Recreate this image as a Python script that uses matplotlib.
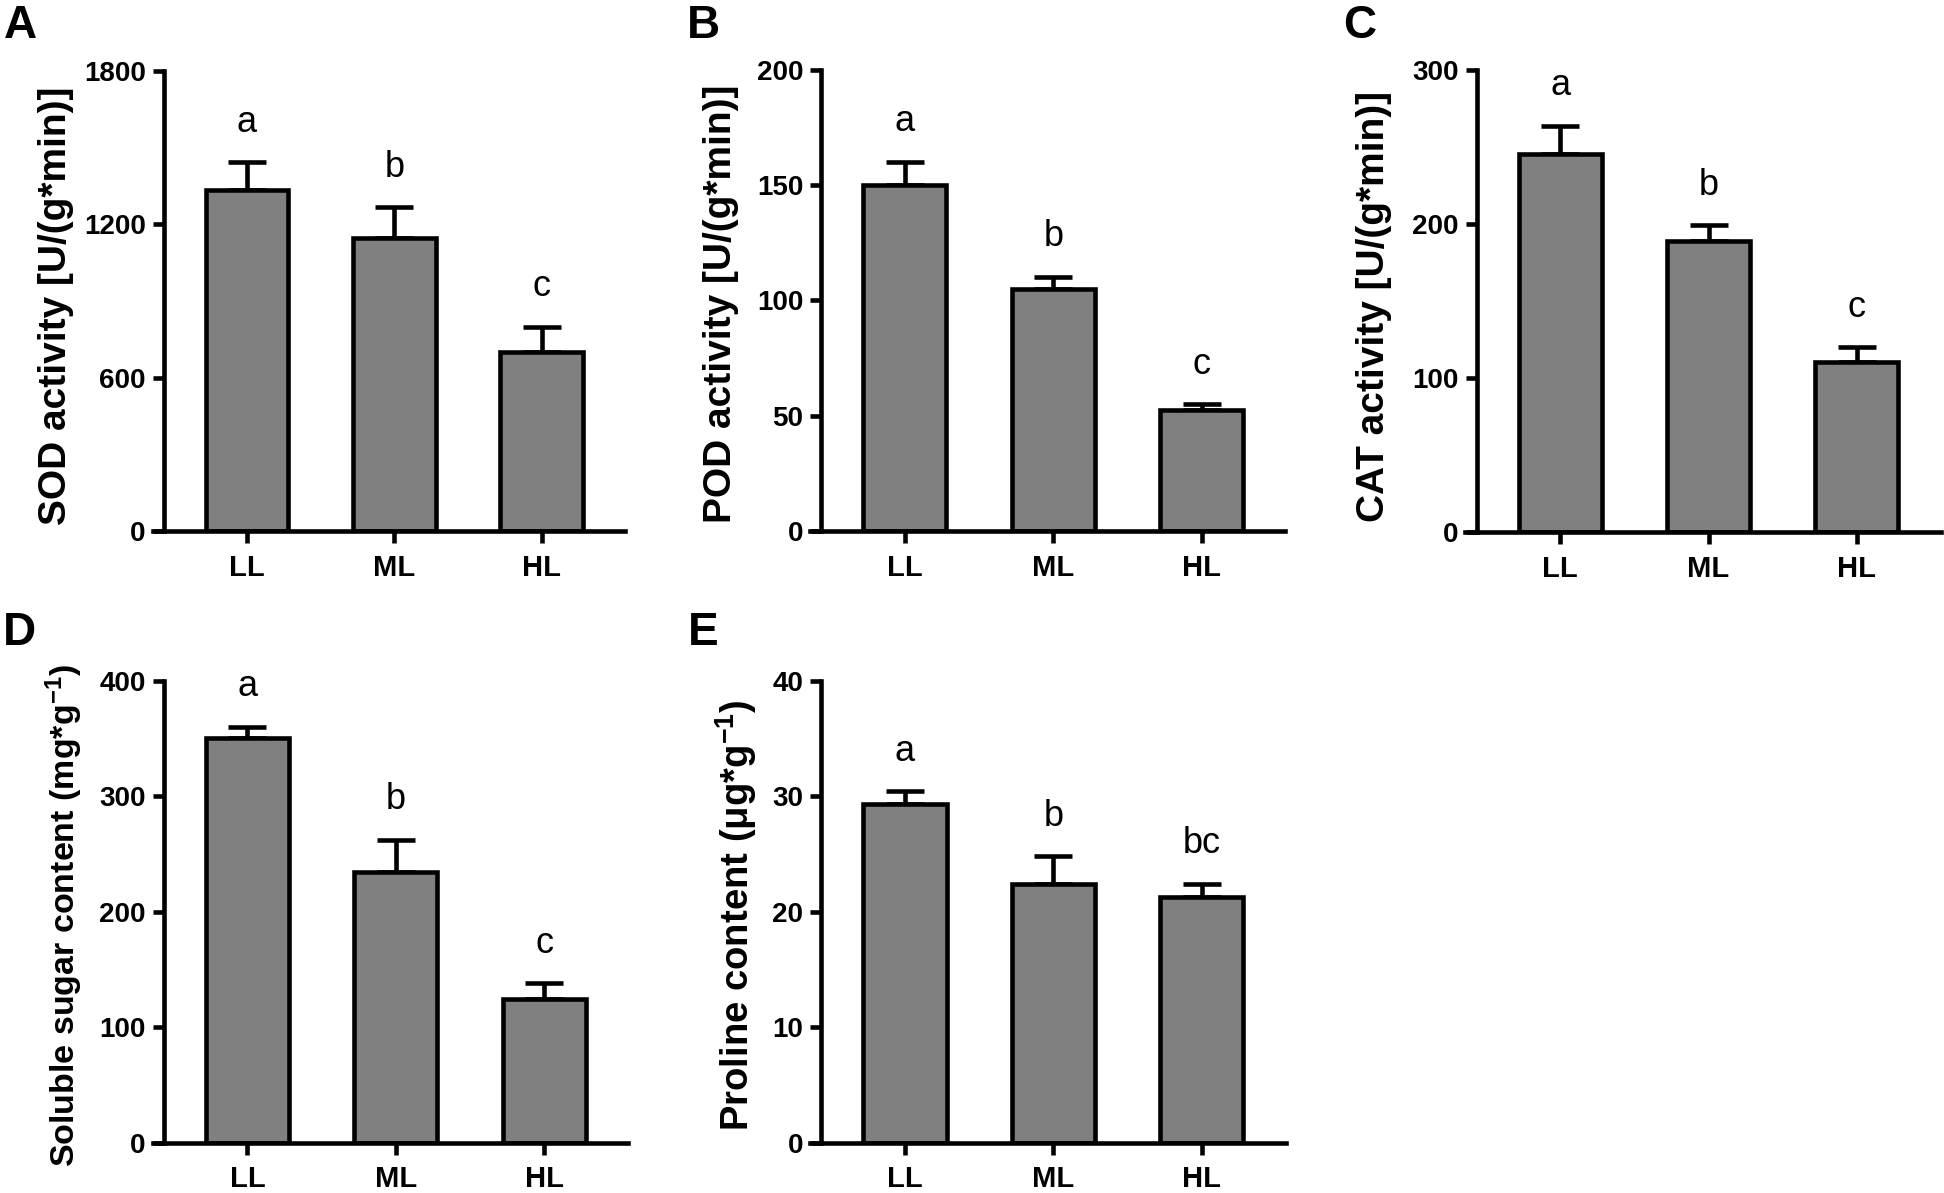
import numpy as np
import matplotlib
matplotlib.use('Agg')
import matplotlib.pyplot as plt

plt.rcParams['font.family'] = ['Liberation Sans', 'DejaVu Sans']
plt.rcParams['mathtext.fontset'] = 'custom'
plt.rcParams['mathtext.rm'] = 'Liberation Sans:bold'
plt.rcParams['mathtext.default'] = 'rm'

# ---------------- data ----------------
groups = ['LL', 'ML', 'HL']

sod_mean = [1333, 1146, 699]
sod_err = [109, 120, 100]
sod_sig = ['a', 'b', 'c']

pod_mean = [150, 105, 52.5]
pod_err = [10, 5.3, 2.5]
pod_sig = ['a', 'b', 'c']

cat_mean = [245, 189, 110.5]
cat_err = [18.5, 10, 9.5]
cat_sig = ['a', 'b', 'c']

sugar_mean = [350, 234, 124]
sugar_err = [10, 28, 14]
sugar_sig = ['a', 'b', 'c']

proline_mean = [29.3, 22.4, 21.3]
proline_err = [1.1, 2.4, 1.1]
proline_sig = ['a', 'b', 'bc']

# ---------------- figure ----------------
W, H = 1944, 1193
fig = plt.figure(figsize=(W / 100, H / 100), dpi=100)

LW = 3.3


def panel(rect, mean, err, sig, yticks, ylabel, lab_x, lab_y, lab_size, tag, tag_x, tag_y):
    left, top, right, bottom = rect
    ax = fig.add_axes([left / W, 1 - bottom / H, (right - left) / W, (bottom - top) / H])
    x = np.arange(len(groups))

    ax.errorbar(x, mean, yerr=[np.zeros(len(mean)), err], fmt='none', ecolor='black',
                elinewidth=LW, capsize=14, capthick=LW, zorder=1, clip_on=False)
    ax.bar(x, mean, width=0.56, color='#808080', edgecolor='black', linewidth=LW, zorder=2)

    for xi, m, e, s in zip(x, mean, err, sig):
        ax.annotate(s, (xi, m + e), xytext=(0, 22), textcoords='offset points',
                    ha='center', va='baseline', fontsize=26)

    ax.set_xlim(-0.64, 2.565)
    ax.set_ylim(yticks[0], yticks[-1])
    ax.set_yticks(yticks)
    ax.set_xticks(x)
    ax.set_xticklabels(groups)

    for sp in ['top', 'right']:
        ax.spines[sp].set_visible(False)
    ax.spines['left'].set_position(('axes', 11.2 / (right - left)))
    ax.spines['left'].set_linewidth(LW)
    ax.spines['bottom'].set_linewidth(LW)

    ax.tick_params(axis='y', length=8, width=LW, pad=5, labelsize=20)
    ax.tick_params(axis='x', length=8.8, width=LW, pad=7.5, labelsize=21)
    for t in ax.get_xticklabels() + ax.get_yticklabels():
        t.set_fontweight('bold')

    fig.text(lab_x / W, 1 - lab_y / H, ylabel, rotation=90, rotation_mode='anchor',
             ha='center', va='baseline', fontsize=lab_size, fontweight='bold')
    fig.text(tag_x / W, 1 - tag_y / H, tag, ha='left', va='baseline',
             fontsize=33, fontweight='bold')
    return ax


panel((152.5, 70.8, 625.1, 531.2), sod_mean, sod_err, sod_sig, [0, 600, 1200, 1800],
      'SOD activity [U/(g*min)]', 66, 306, 28, 'A', 4, 38)
panel((810, 69.7, 1285.4, 531.2), pod_mean, pod_err, pod_sig, [0, 50, 100, 150, 200],
      'POD activity [U/(g*min)]', 731, 304, 28, 'B', 687, 38)
panel((1465.4, 69.7, 1940.7, 532), cat_mean, cat_err, cat_sig, [0, 100, 200, 300],
      'CAT activity [U/(g*min)]', 1384, 306, 28, 'C', 1343, 38)
panel((152.5, 680.6, 628, 1142.6), sugar_mean, sugar_err, sugar_sig, [0, 100, 200, 300, 400],
      r'Soluble sugar content (mg*g$^{-1}$)', 75, 916, 24.5, 'D', 3, 645)
panel((810, 680.6, 1285.8, 1142.6), proline_mean, proline_err, proline_sig, [0, 10, 20, 30, 40],
      r'Proline content (μg*g$^{-1}$)', 749, 915, 27.5, 'E', 688, 645)

plt.savefig('out.png', dpi=100)
